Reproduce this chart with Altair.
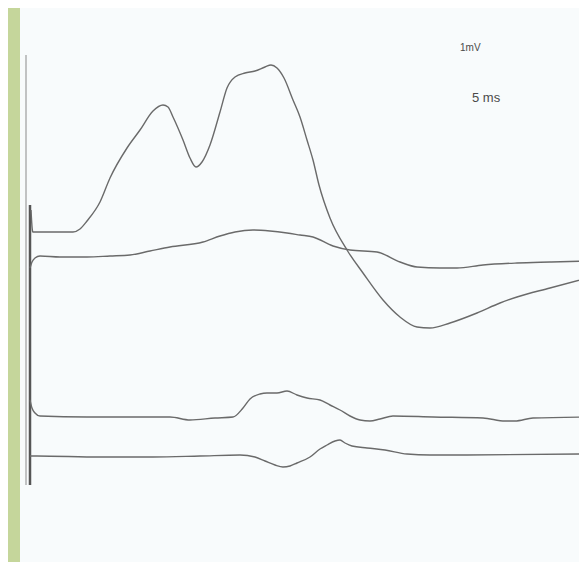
import altair as alt
import pandas as pd

# Time in ms, amplitude in mV (relative to each trace's own baseline)
t1 = [0.05, 0.125, 0.15, 1.0, 2.15, 2.5, 2.85, 3.5, 4.0, 4.85, 5.5, 6.15, 6.65, 6.9, 7.15, 7.65, 8.0, 8.3, 8.6,
      9.0, 9.5, 9.85, 10.25, 10.75, 11.25, 11.75, 12.05, 12.35, 12.7, 13.15, 13.5, 13.85, 14.15, 14.45, 15.0,
      15.85, 16.65, 17.65, 18.5, 19.35, 20.0, 21.0, 22.35, 23.5, 24.35, 26.0, 27.85]
v1 = [0.55, 0.025, 0.0, 0.0, 0.0, 0.075, 0.275, 0.75, 1.35, 2.1, 2.55, 3.025, 3.175, 3.125, 2.875, 2.3, 1.85, 1.625,
      1.75, 2.175, 3.0, 3.6, 3.875, 3.975, 4.025, 4.125, 4.175, 4.1, 3.85, 3.3, 2.875, 2.3, 1.8, 1.175, 0.35,
      -0.45, -1.025, -1.7, -2.125, -2.375, -2.4, -2.275, -2.025, -1.775, -1.625, -1.4, -1.15]

t2 = [0.0, 0.1, 0.25, 0.5, 1.5, 2.85, 4.0, 5.0, 6.0, 7.0, 8.65, 9.5, 10.25, 11.15, 12.0, 12.85, 13.5, 14.15,
      15.15, 16.0, 17.35, 18.5, 19.35, 20.5, 21.35, 22.65, 24.35, 26.0, 27.85]
v2 = [-0.275, -0.125, -0.025, 0.025, 0.0, 0.0, 0.025, 0.05, 0.15, 0.25, 0.375, 0.525, 0.625, 0.675, 0.65, 0.6,
      0.55, 0.5, 0.275, 0.175, 0.125, -0.125, -0.25, -0.275, -0.275, -0.2, -0.15, -0.125, -0.1]

t3 = [0.0, 0.1, 0.25, 0.5, 2.85, 5.0, 7.0, 8.0, 9.25, 10.15, 10.65, 11.0, 11.5, 11.85, 12.35, 12.85, 13.35, 13.85,
      14.5, 15.0, 15.5, 16.0, 16.5, 17.0, 17.5, 18.15, 20.15, 22.65, 23.75, 24.25, 25.15, 27.85]
v3 = [0.425, 0.225, 0.1, 0.025, 0.0, 0.0, 0.0, -0.075, -0.025, 0.0, 0.225, 0.45, 0.575, 0.6, 0.6, 0.65, 0.55,
      0.475, 0.425, 0.3, 0.175, 0.025, -0.075, -0.1, -0.05, 0.025, 0.0, -0.025, -0.1, -0.1, -0.025, 0.0]

t4 = [0.0, 0.35, 3.5, 6.15, 8.5, 10.5, 11.25, 11.75, 12.25, 12.65, 13.0, 13.35, 14.0, 14.5, 14.85, 15.25, 15.5,
      15.75, 16.1, 16.85, 17.75, 18.85, 20.0, 21.85, 27.85]
v4 = [0.025, 0.025, 0.0, 0.0, 0.025, 0.05, 0.0, -0.1, -0.2, -0.25, -0.225, -0.15, 0.0, 0.2, 0.3, 0.4, 0.425,
      0.35, 0.275, 0.225, 0.175, 0.075, 0.05, 0.05, 0.075]

trace_names = ["A", "B", "C", "D"]
trace_offsets = [0.0, -0.625, -4.625, -5.625]   # mV display offsets of each channel baseline

rows = []
for name, off, ts, vs in zip(trace_names, trace_offsets, [t1, t2, t3, t4], [v1, v2, v3, v4]):
    for i, (t, v) in enumerate(zip(ts, vs)):
        rows.append({"trace": name, "i": i, "t": t, "v": v + off})
df = pd.DataFrame(rows)

# Marker lines at stimulus
marker_t = [-0.2, 0.0]
marker_top = [4.425, 0.675]
marker_bottom = [-6.325, -6.325]
marker_width = [1.0, 2.5]
marker_color = ["#8a8a8a", "#555555"]
mk = pd.DataFrame({"t": marker_t, "top": marker_top, "bot": marker_bottom,
                   "w": marker_width, "c": marker_color})

labels = ["1mV", "5 ms"]
label_t = [21.5, 22.1]
label_v = [4.6, 3.34]
label_size = [10, 13]
lab = pd.DataFrame({"text": labels, "t": label_t, "v": label_v, "s": label_size})

xs = alt.Scale(domain=[-0.5, 27.45], nice=False, zero=False)
ys = alt.Scale(domain=[-8.25, 5.6], nice=False, zero=False)

lines = alt.Chart(df).mark_line(color="#6a6a6a", strokeWidth=1.4, clip=True, interpolate="monotone").encode(
    x=alt.X("t:Q", scale=xs, axis=None),
    y=alt.Y("v:Q", scale=ys, axis=None),
    detail="trace:N",
    order="i:Q",
)

rules = alt.Chart(mk).mark_rule().encode(
    x=alt.X("t:Q", scale=xs, axis=None),
    y=alt.Y("top:Q", scale=ys, axis=None),
    y2="bot:Q",
    color=alt.Color("c:N", scale=None),
    strokeWidth=alt.StrokeWidth("w:Q", scale=None),
)

text = alt.Chart(lab).mark_text(align="left", baseline="middle", color="#4a4a4a",
                                font="Liberation Sans").encode(
    x=alt.X("t:Q", scale=xs, axis=None),
    y=alt.Y("v:Q", scale=ys, axis=None),
    text="text:N",
    size=alt.Size("s:Q", scale=None),
)

chart = alt.layer(rules, lines, text).properties(
    width=559, height=554,
    padding={"left": 12, "top": 0, "right": 0, "bottom": 0},
    autosize=alt.AutoSizeParams(type="none"),
).configure(background="#c5d69b").configure_view(fill="#f8fbfc", stroke=None)

chart.save("out.html", embed_options={"renderer": "svg", "actions": False})
